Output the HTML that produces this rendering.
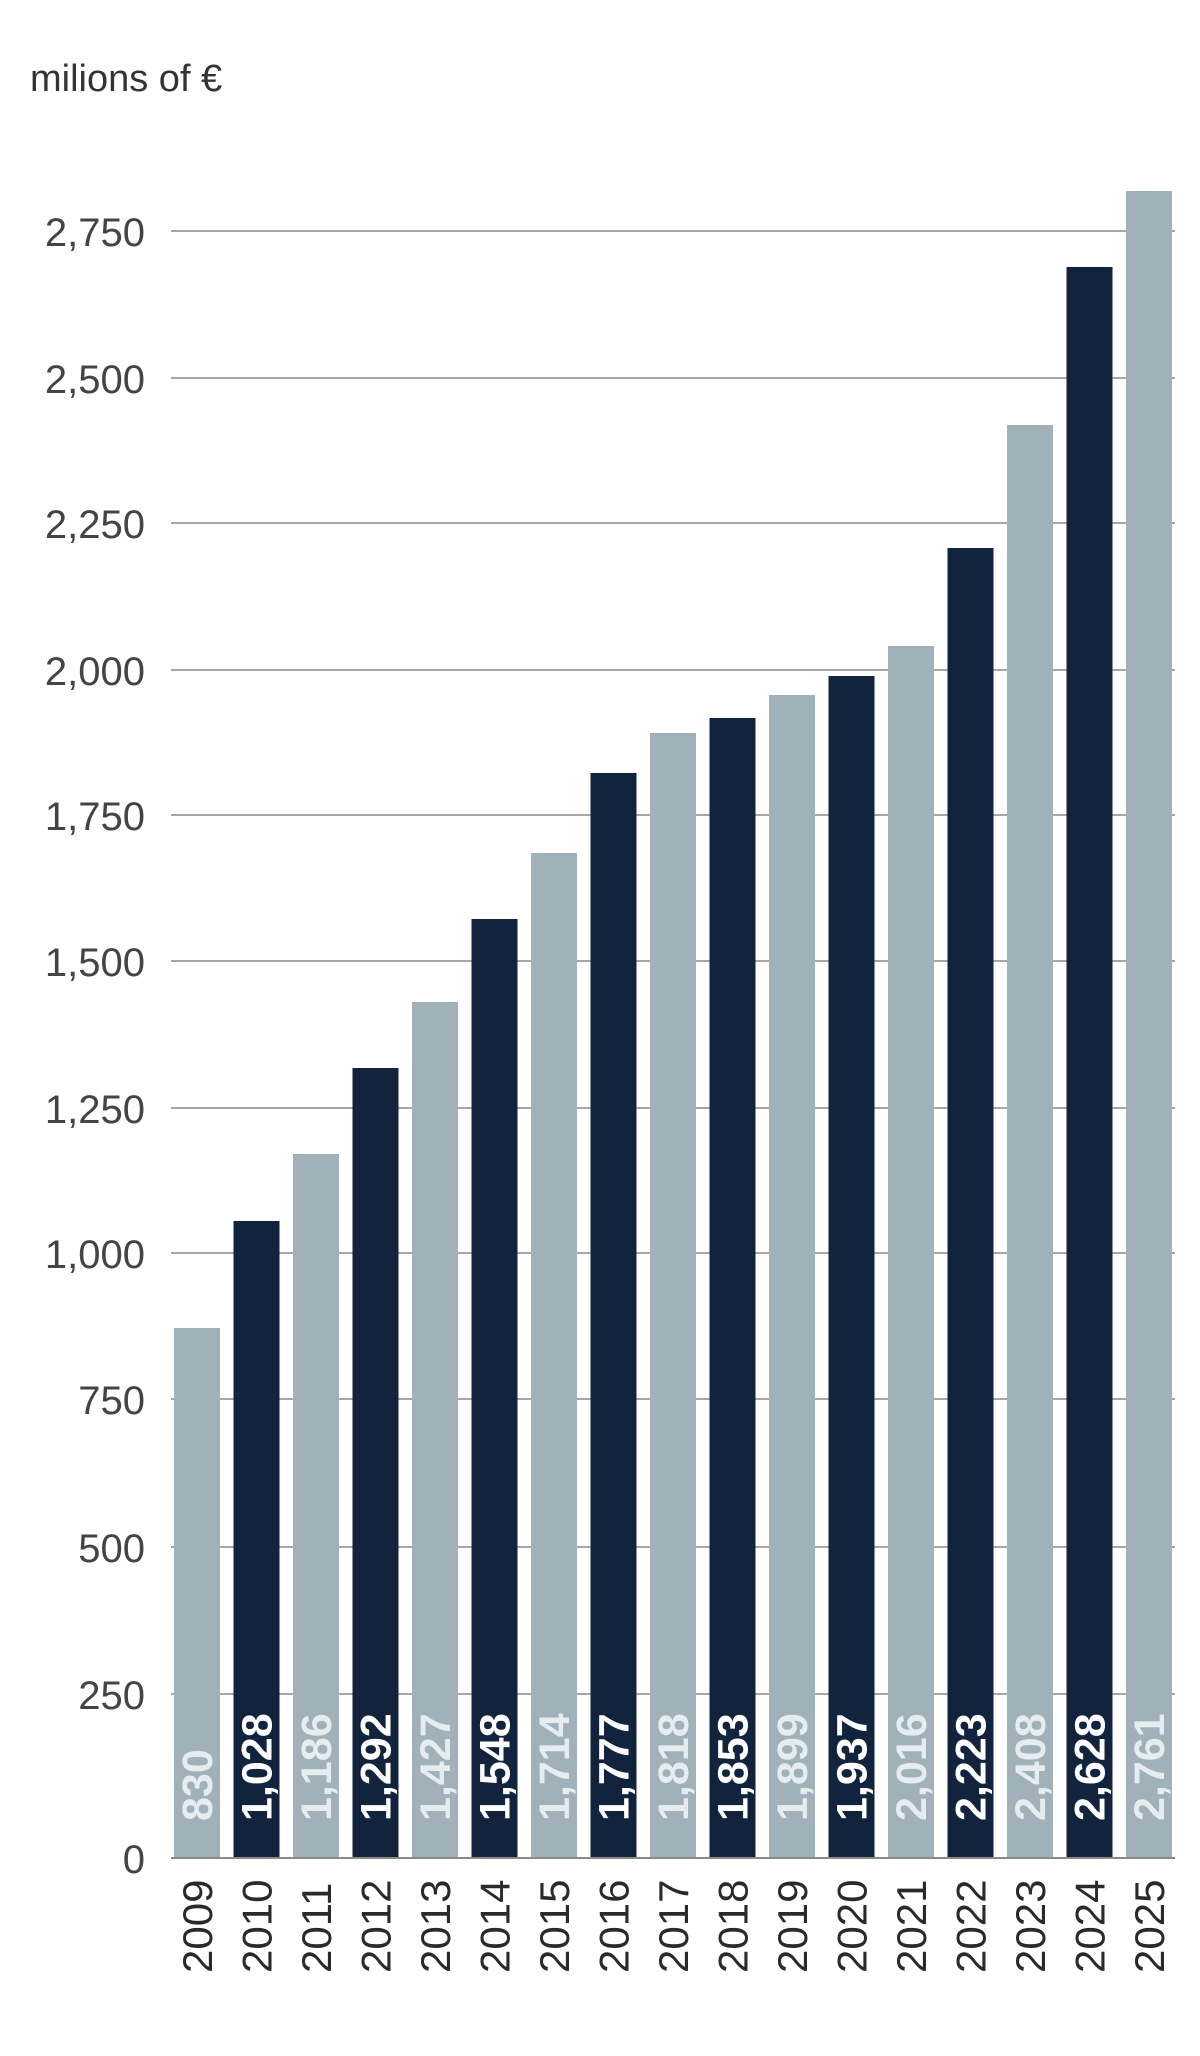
<!DOCTYPE html>
<html><head><meta charset="utf-8"><style>
html,body{margin:0;padding:0;background:#fff;}
svg{display:block;}
</style></head><body>
<svg width="1200" height="2056" viewBox="0 0 1200 2056" xmlns="http://www.w3.org/2000/svg" font-family="Liberation Sans, sans-serif">
<rect width="1200" height="2056" fill="#fff"/>
<text x="30" y="91" font-size="38" fill="#333">milions of €</text>
<g stroke="#8a8a8a" stroke-width="1.5">
<line x1="171" x2="1175" y1="1694" y2="1694"/>
<line x1="171" x2="1175" y1="1547" y2="1547"/>
<line x1="171" x2="1175" y1="1399" y2="1399"/>
<line x1="171" x2="1175" y1="1253" y2="1253"/>
<line x1="171" x2="1175" y1="1108" y2="1108"/>
<line x1="171" x2="1175" y1="961" y2="961"/>
<line x1="171" x2="1175" y1="815" y2="815"/>
<line x1="171" x2="1175" y1="670" y2="670"/>
<line x1="171" x2="1175" y1="523" y2="523"/>
<line x1="171" x2="1175" y1="378" y2="378"/>
<line x1="171" x2="1175" y1="231" y2="231"/>
</g>
<g font-size="40" fill="#444" text-anchor="end">
<text x="145" y="1873">0</text>
<text x="145" y="1709">250</text>
<text x="145" y="1562">500</text>
<text x="145" y="1414">750</text>
<text x="145" y="1268">1,000</text>
<text x="145" y="1123">1,250</text>
<text x="145" y="976">1,500</text>
<text x="145" y="830">1,750</text>
<text x="145" y="685">2,000</text>
<text x="145" y="538">2,250</text>
<text x="145" y="393">2,500</text>
<text x="145" y="246">2,750</text>
</g>
<g id="bars"></g>
<line x1="171" x2="1175" y1="1858" y2="1858" stroke="#8a8a8a" stroke-width="2"/>
<g id="labels"></g>
<script>
var tops=[1328,1221,1154,1068,1002,919,853,773,733,718,695,676,646,548,425,267,191];
var vals=["830","1,028","1,186","1,292","1,427","1,548","1,714","1,777","1,818","1,853","1,899","1,937","2,016","2,223","2,408","2,628","2,761"];
var dark=[0,1,0,1,0,1,0,1,0,1,0,1,0,1,0,1,0];
var ns="http://www.w3.org/2000/svg",b=document.getElementById("bars"),l=document.getElementById("labels");
for(var i=0;i<17;i++){
 var x=174+i*59.5,w=46,cx=x+w/2;
 var r=document.createElementNS(ns,"rect");
 r.setAttribute("x",x);r.setAttribute("y",tops[i]);r.setAttribute("width",w);r.setAttribute("height",1858-tops[i]);
 r.setAttribute("fill",dark[i]?"#12233d":"#a0b1ba");b.appendChild(r);
 var t=document.createElementNS(ns,"text");
 var bx=cx+15,by=1821;
 t.setAttribute("transform","translate("+bx+","+by+") rotate(-90)");
 t.setAttribute("font-size","43");t.setAttribute("font-weight","bold");
 t.setAttribute("fill",dark[i]?"#ffffff":"#e6edf1");
 t.textContent=vals[i];l.appendChild(t);
 var y=document.createElementNS(ns,"text");
 y.setAttribute("transform","translate("+(cx+15)+",1973) rotate(-90)");
 y.setAttribute("font-size","42");y.setAttribute("fill","#2a2a2a");
 y.textContent=String(2009+i);l.appendChild(y);
}
</script>
</svg>
</body></html>
